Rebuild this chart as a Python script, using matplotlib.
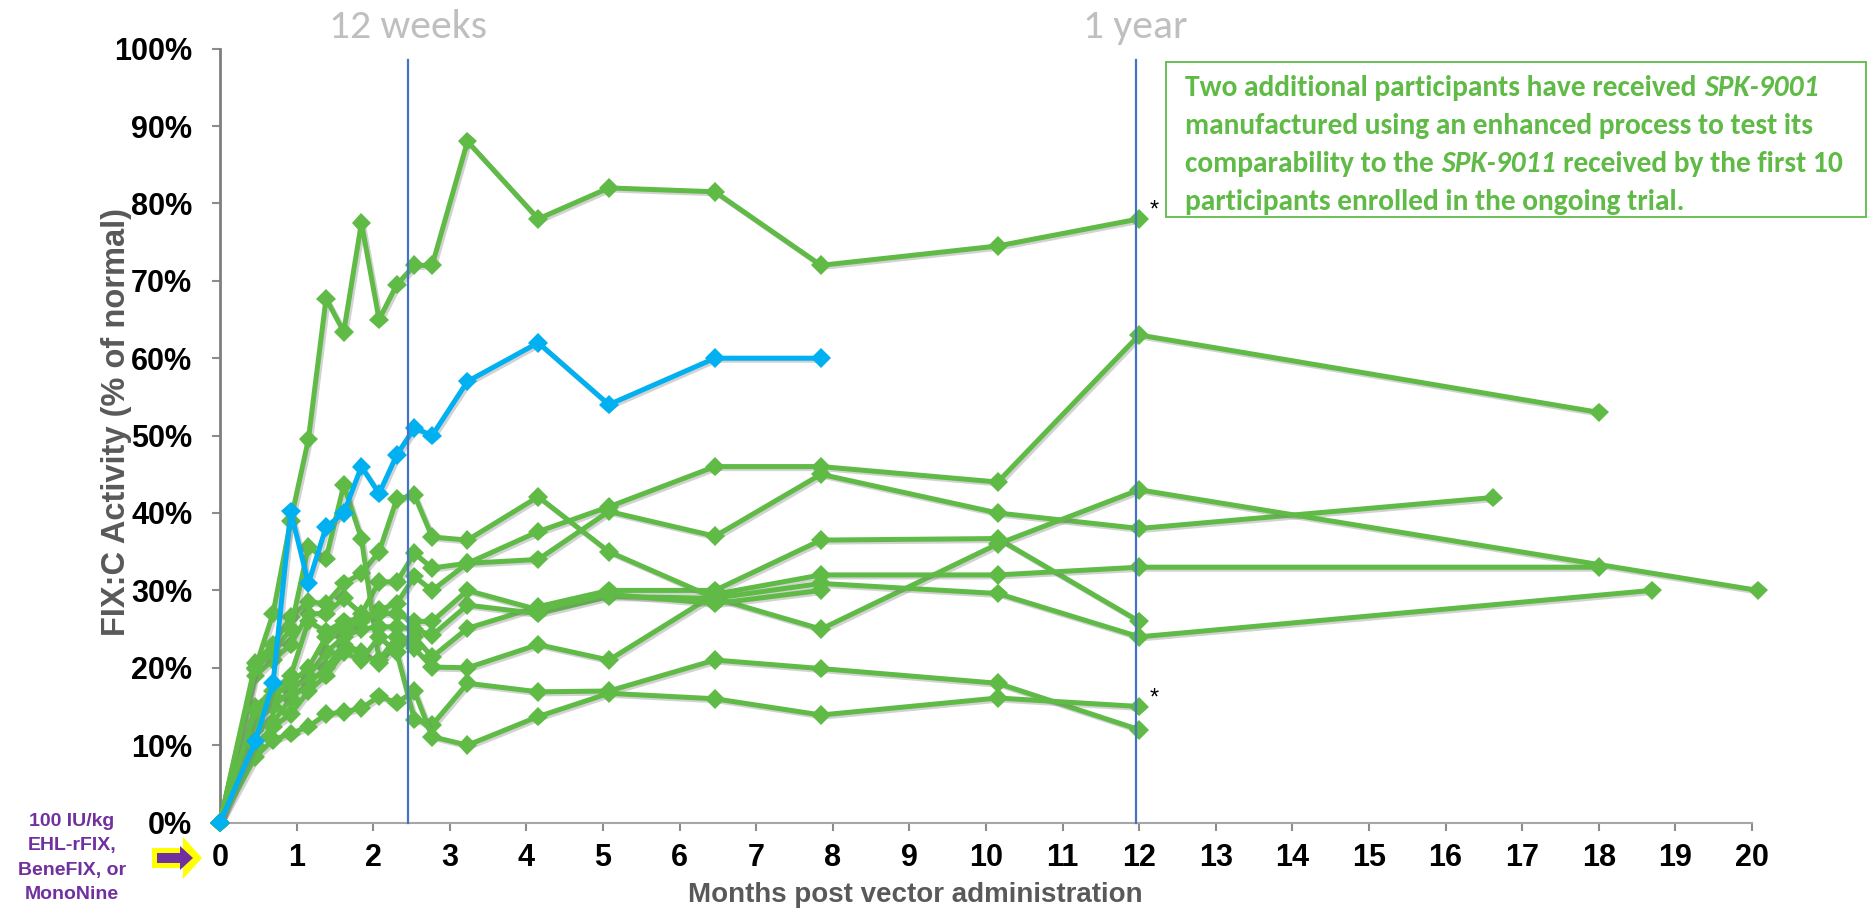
import numpy as np
import matplotlib
matplotlib.use("Agg")
import matplotlib.pyplot as plt
from matplotlib import font_manager, patheffects
from matplotlib.offsetbox import TextArea, HPacker, VPacker, AnnotationBbox
from matplotlib.patches import Polygon, Rectangle

W, H = 1876, 917

# sampling times (weeks post vector), converted to months for the x axis
weeks = [0, 2, 3, 4, 5, 6, 7, 8, 9, 10, 11, 12, 14, 18, 22, 28, 34, 44, 52, 72, 78, 81, 87]

# FIX:C activity, % of normal (None = no sample)
p01 = [0, 20, 27, 39, 49.5, 67.7, 63.4, 77.5, 65, 69.5, 72, 72, 88, 78, 82, 81.5, 72, 74.5, 78, None, None, None, None]
p02 = [0, 19, 21, 23, 27, 27, 29, 27, 31.1, 31.1, 34.8, 32.9, 33.5, 37.6, 40.8, 46, 46, 44, 63, None, 53, None, None]
p03 = [0, 15, 17, 19, 26, 24.7, 26, 26.4, 27.5, 28.3, 31.8, 30, 33.5, 34, 40.2, 37, 45, 40, 38, 42, None, None, None]
p04 = [0, 12, 13, 16, 18, 20, 23, 22.1, 20.6, 23, 24, 21.4, 25.1, 27.9, 30, 30, 36.5, 36.7, 26, None, None, None, None]
p05 = [0, 20.6, 23, 26.6, 28.5, 28.3, 30.9, 32.2, 35, 41.8, 42.3, 36.9, 36.5, 42.1, 35, 29, 25, 36, 43, None, None, None, 30]
p06 = [0, 19.9, 22, 25, 35.6, 34.1, 43.6, 36.7, 21, 24, 22.5, 20.1, 20, 23, 21, 29.5, 32, 32, 33, None, 33, None, None]
p07 = [0, 13, 15, 17, 19, 22, 24, 25, 25.3, 25.3, 25, 24.2, 28.1, 27, 29.2, 29, 30.9, 29.6, 24, None, None, 30, None]
p08 = [0, 14.5, 16.3, 18, 20, 24, 25, 26, 27, 27, 26, 26, 30, 27.5, 29.5, 28.3, 30, None, None, None, None, None, None]
p09 = [0, 10, 12.4, 14, 17, 19, 22, 21, 24, 22, 13.3, 12.6, 18, 16.9, 17, 21, 19.9, 18, 12, None, None, None, None]
p10 = [0, 8.5, 10.7, 11.5, 12.4, 14, 14.3, 14.8, 16.3, 15.5, 17, 11.1, 10, 13.7, 16.7, 16, 13.9, 16.1, 15, None, None, None, None]
enhanced = [0, 10.5, 18, 40.2, 30.9, 38.2, 40, 46, 42.5, 47.5, 51, 50, 57, 62, 54, 60, 60, None, None, None, None, None, None]

green_series = [p01, p02, p03, p04, p05, p06, p07, p08, p09, p10]
starred = [(52, 78), (52, 15)]

week_line = 10.64   # "12 weeks" marker as drawn
year_line = 51.8

note = [
    [("Two additional participants have received", False), ("SPK-9001", True)],
    [("manufactured using an enhanced process to test its", False)],
    [("comparability to the", False), ("SPK-9011", True), ("received by the first 10", False)],
    [("participants enrolled in the ongoing trial.", False)],
]

GREEN = "#5FBA46"
BLUE = "#00B0F0"
VLINE = "#4472C4"
PURPLE = "#7030A0"

names = {f.name for f in font_manager.fontManager.ttflist}
calibri = "Carlito" if "Carlito" in names else "Lato"
narrow = "Liberation Sans Narrow" in names


def months(w):
    return np.asarray(w, dtype=float) * 12 / 52


def fig_xy(x, y):
    return (x / W, 1 - y / H)


fig = plt.figure(figsize=(W / 100, H / 100), dpi=100)
ax = fig.add_axes([220 / W, 1 - 822.6 / H, 1532 / W, 774 / H])

shadow = [patheffects.SimpleLineShadow(offset=(1.5, -1.5), shadow_color="gray", alpha=0.35),
          patheffects.Normal()]

for vals in green_series + [enhanced]:
    v = np.array([np.nan if a is None else a for a in vals])
    ok = ~np.isnan(v)
    col = BLUE if vals is enhanced else GREEN
    ax.plot(months(weeks)[ok], v[ok], color=col, lw=3.6, marker="D", ms=10, mew=0,
            clip_on=False, zorder=4 if vals is enhanced else 3, path_effects=shadow)

for w, v in starred:
    ax.annotate("*", (months(w), v), xytext=(10, 2), textcoords="offset pixels",
                fontsize=17, family="Liberation Sans", color="black")

for w in [week_line, year_line]:
    ax.plot([months(w)] * 2, [0, 98.5], color=VLINE, lw=1.6, zorder=5, clip_on=False)

ax.text(months(week_line), 102.8, "12 weeks", ha="center", va="center", fontsize=30,
        family=calibri, color="#BFBFBF", clip_on=False)
ax.text(months(year_line), 102.8, "1 year", ha="center", va="center", fontsize=30,
        family=calibri, color="#BFBFBF", clip_on=False)

ax.set_xlim(0, 20)
ax.set_ylim(0, 100)
ax.set_xticks(range(0, 21))
ax.set_yticks(range(0, 101, 10))
ax.set_yticklabels([f"{t}%" for t in range(0, 101, 10)])
for lab in ax.get_xticklabels() + ax.get_yticklabels():
    lab.set_fontfamily("Liberation Sans")
    lab.set_fontweight("bold")
    lab.set_fontsize(22)
ax.tick_params(axis="both", direction="out", length=6, width=1.5, color="#8C8C8C")
ax.tick_params(axis="x", pad=9)
ax.tick_params(axis="y", pad=14)
for s in ["top", "right"]:
    ax.spines[s].set_visible(False)
ax.spines["left"].set_color("#7F7F7F")
ax.spines["left"].set_linewidth(2)
ax.spines["bottom"].set_color("#A6A6A6")
ax.spines["bottom"].set_linewidth(1.5)
ax.patch.set_alpha(0)

fig.text(116 / W, 1 - 422 / H, "FIX:C Activity (% of normal)", rotation=90, ha="center",
         va="center", fontsize=23.5, fontweight="bold", family="Liberation Sans", color="#595959")
fig.text(915 / W, 1 - 895 / H, "Months post vector administration", ha="center", va="center",
         fontsize=20, fontweight="bold", family="Liberation Sans", color="#595959")

# dosing note with arrow
if narrow:
    fig.text(72 / W, 1 - 858 / H, "100 IU/kg\nEHL-rFIX,\nBeneFIX, or\nMonoNine", ha="center",
             va="center", fontsize=16, fontweight="bold", family="Liberation Sans Narrow",
             color=PURPLE, linespacing=1.05)
else:
    fig.text(72 / W, 1 - 858 / H, "100 IU/kg\nEHL-rFIX,\nBeneFIX, or\nMonoNine", ha="center",
             va="center", fontsize=14, fontweight="bold", family="Liberation Sans",
             color=PURPLE, linespacing=1.55)

outer = [(152, 848), (183, 848), (183, 837), (202, 858), (183, 879), (183, 868), (152, 868)]
inner = [(157, 853), (180, 853), (180, 846), (193, 858), (180, 870), (180, 863), (157, 863)]
fig.add_artist(Polygon([fig_xy(*p) for p in outer], closed=True, transform=fig.transFigure,
                       facecolor="#FFFF00", edgecolor="none"))
fig.add_artist(Polygon([fig_xy(*p) for p in inner], closed=True, transform=fig.transFigure,
                       facecolor=PURPLE, edgecolor="none"))

# note box
fig.add_artist(Rectangle(fig_xy(1166, 217), 700 / W, 155 / H, transform=fig.transFigure,
                         fill=False, edgecolor=GREEN, lw=1.3))


def build_note(fs, sep):
    rows = []
    for line in note:
        segs = [TextArea(t, textprops=dict(color=GREEN, fontsize=fs, fontweight="bold",
                                           fontstyle="italic" if it else "normal",
                                           family=calibri))
                for t, it in line]
        rows.append(HPacker(children=segs, align="baseline", pad=0, sep=fs * 0.25))
    box = VPacker(children=rows, align="left", pad=0, sep=sep)
    ab = AnnotationBbox(box, (1185, H - 75), xycoords="figure pixels", box_alignment=(0, 1),
                        frameon=False, pad=0)
    fig.add_artist(ab)
    return ab, rows


# fit the first line to ~636 px wide and the rows to a ~38 px pitch
ab, rows = build_note(18, 6)
fig.canvas.draw()
r = fig.canvas.get_renderer()
w0 = rows[0].get_window_extent(r).width
fs = 18 * 636 / w0
ab.remove()
ab, rows = build_note(fs, 6)
fig.canvas.draw()
h0 = rows[0].get_window_extent(r).height
sep = max(0, (38 - h0)) * 72 / 100
ab.remove()
build_note(fs, sep)

fig.savefig("out.png", dpi=100)
